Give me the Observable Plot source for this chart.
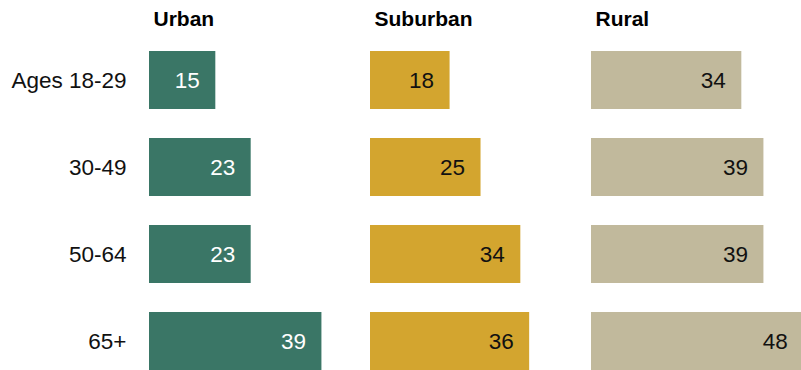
<!DOCTYPE html>
<html>
<head>
<meta charset="utf-8">
<script src="https://cdn.jsdelivr.net/npm/d3@7"></script>
<script src="https://cdn.jsdelivr.net/npm/@observablehq/plot@0.6"></script>
<style>
  html, body { margin: 0; padding: 0; background: #fff; overflow: hidden; }
</style>
</head>
<body>
<div id="chart"></div>
<script>
const regions = ["Urban", "Suburban", "Rural"];
const ages = ["Ages 18-29", "30-49", "50-64", "65+"];
const urban = [15, 23, 23, 39];
const suburban = [18, 25, 34, 36];
const rural = [34, 39, 39, 48];
const regionColors = ["#3a7666", "#d3a52f", "#c1b99c"];

const seriesByRegion = [urban, suburban, rural];
const rows = regions.flatMap((r, i) =>
  seriesByRegion[i].map((v, j) => ({ region: r, age: ages[j], value: v }))
);

const chart = Plot.plot({
  width: 801,
  height: 370,
  marginLeft: 148,
  marginRight: 0,
  marginTop: 50,
  marginBottom: -2,
  style: {
    fontFamily: "'Liberation Sans', Arial, sans-serif",
    fontSize: "22.5px",
    color: "#111",
    background: "#fff",
    overflow: "visible"
  },
  fx: { domain: regions, paddingInner: 0.052, paddingOuter: 0, axis: null },
  x: { domain: [0, 47.5], axis: null },
  y: { domain: ages, paddingInner: 0.328, paddingOuter: 0, tickSize: 0, tickPadding: 23, label: null },
  color: { domain: regions, range: regionColors },
  marks: [
    Plot.barX(rows, { fx: "region", y: "age", x: "value", fill: "region" }),
    Plot.text(rows.filter(d => d.region === "Urban"), {
      fx: "region", y: "age", x: "value", text: d => String(d.value),
      textAnchor: "end", dx: -16, fill: "white", fontSize: 22.5
    }),
    Plot.text(rows.filter(d => d.region !== "Urban"), {
      fx: "region", y: "age", x: "value", text: d => String(d.value),
      textAnchor: "end", dx: -16, fill: "#111", fontSize: 22.5
    }),
    Plot.text(regions, {
      fx: d => d, text: d => d, frameAnchor: "top-left", textAnchor: "start",
      lineAnchor: "bottom", dy: -25, dx: 4, fontWeight: "bold", fontSize: 21, fill: "#000"
    })
  ]
});

document.getElementById("chart").appendChild(chart);
</script>
</body>
</html>
